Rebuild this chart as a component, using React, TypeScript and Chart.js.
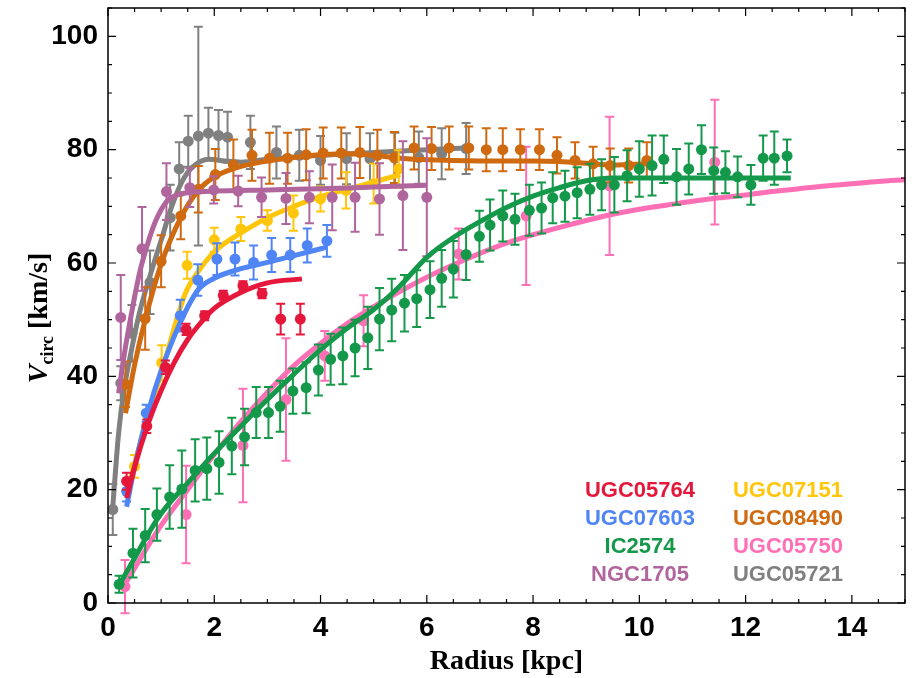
import React, { useEffect, useRef } from "react";
import { Chart, registerables } from "chart.js";

Chart.register(...registerables);

// ---- data ----
const galaxyNames = ["UGC05764", "UGC07603", "IC2574", "NGC1705", "UGC07151", "UGC08490", "UGC05750", "UGC05721"];
const galaxyColors = ["#e5173b", "#4f85f5", "#14984a", "#b0669c", "#ffc60b", "#cf6a10", "#ff6fb5", "#808080"];

const xTickValues = [0, 2, 4, 6, 8, 10, 12, 14];
const yTickValues = [0, 20, 40, 60, 80, 100];

// points: [radius kpc, Vcirc km/s, error]
const ugc05764Points = [
  [0.35, 21.5, 1.5], [0.73, 31.2, 1.2], [1.08, 41.6, 1.2], [1.47, 48.3, 1.0], [1.82, 50.7, 0.8],
  [2.17, 54.3, 0.8], [2.54, 56.0, 0.8], [2.9, 54.6, 0.8], [3.25, 50.1, 2.7], [3.62, 50.1, 2.7],
];
const ugc05764Fit = [
  [0.35, 18.5], [0.5, 24], [0.75, 31.5], [1.0, 37.5], [1.25, 42.5], [1.5, 46.5], [1.75, 49.5],
  [2.0, 52], [2.5, 54.8], [3.0, 56.5], [3.65, 57.2],
];

const ugc07603Points = [
  [0.35, 19.7, 1.8], [0.72, 33.5, 1.5], [1.36, 50.7, 2.8], [1.69, 57.0, 2.8], [2.05, 60.7, 2.8],
  [2.39, 60.7, 2.9], [2.74, 60.1, 3.0], [3.08, 61.4, 3.0], [3.43, 61.4, 3.0], [3.75, 63.1, 3.0], [4.12, 63.9, 2.8],
];
const ugc07603Fit = [
  [0.35, 17], [0.5, 24], [0.75, 33.5], [1.0, 41], [1.36, 49.5], [1.7, 55.3], [2.0, 57.3],
  [2.5, 59], [3.0, 60.1], [3.5, 61.3], [4.12, 62.8],
];

const ic2574Points = [
  [0.21, 3.3, 1.5], [0.47, 8.8, 4.3], [0.7, 11.9, 4.7], [0.92, 15.6, 4.6], [1.16, 18.7, 5.6],
  [1.39, 20.1, 6.8], [1.64, 23.4, 5.5], [1.86, 23.7, 5.5], [2.09, 24.8, 5.5], [2.33, 27.7, 5.0],
  [2.57, 29.3, 5.0], [2.79, 33.6, 4.5], [3.02, 33.6, 4.5], [3.24, 34.7, 4.5], [3.48, 37.4, 4.0],
  [3.73, 38.0, 4.5], [3.96, 41.1, 4.5], [4.19, 43.0, 4.5], [4.42, 43.6, 5.0], [4.65, 45.0, 5.0],
  [4.89, 46.8, 5.5], [5.11, 50.1, 5.5], [5.34, 51.7, 5.5], [5.58, 52.9, 5.0], [5.81, 53.7, 5.0],
  [6.06, 55.3, 5.0], [6.28, 57.3, 5.0], [6.5, 58.9, 5.0], [6.74, 61.5, 4.5], [6.99, 64.7, 4.5],
  [7.19, 66.7, 4.5], [7.43, 68.3, 4.5], [7.66, 67.7, 4.5], [7.93, 69.3, 4.5], [8.16, 69.7, 4.5],
  [8.37, 71.5, 4.5], [8.6, 71.8, 4.5], [8.83, 72.4, 4.5], [9.07, 73.0, 4.5], [9.29, 73.8, 4.5],
  [9.53, 73.8, 4.9], [9.77, 75.4, 4.5], [10.0, 76.6, 4.9], [10.24, 77.2, 5.3], [10.46, 78.3, 4.2],
  [10.7, 75.2, 4.9], [10.93, 76.6, 4.5], [11.17, 80.0, 4.3], [11.4, 76.3, 4.1], [11.62, 76.0, 3.7],
  [11.85, 75.2, 3.6], [12.1, 73.8, 3.5], [12.33, 78.5, 4.0], [12.54, 78.5, 4.7], [12.78, 78.9, 2.9],
];
const ic2574Fit = [
  [0.2, 3], [0.5, 7.9], [0.75, 12.1], [1.0, 15.8], [1.5, 21.2], [2.0, 26.4], [2.5, 31.2], [3.0, 35.9],
  [3.5, 40.4], [4.0, 44.7], [4.5, 48.5], [5.0, 51.8], [5.5, 56], [6.0, 61], [6.5, 64.5], [7.0, 67.3],
  [7.5, 69.8], [8.0, 71.8], [8.5, 73.3], [9.0, 74.5], [9.5, 75], [10.0, 75], [11.0, 75], [12.0, 75], [12.85, 75],
];

const ngc1705Points = [
  [0.24, 50.4, 7.5], [0.64, 62.5, 7.4], [1.1, 72.6, 5.0], [1.54, 73.3, 3.4], [1.99, 72.9, 2.4],
  [2.45, 72.7, 2.7], [2.89, 71.6, 3.5], [3.35, 71.4, 4.5], [3.79, 71.6, 4.6], [4.22, 71.6, 5.8],
  [4.65, 71.6, 6.1], [5.11, 71.3, 6.3], [5.55, 71.9, 9.6], [6.0, 71.6, 10.4],
];
const ngc1705Fit = [
  [0.2, 37], [0.3, 43.5], [0.4, 49], [0.5, 54], [0.6, 58.5], [0.75, 63.5], [0.9, 67.5], [1.1, 70.8],
  [1.3, 72], [1.6, 72.5], [2.0, 72.7], [3.0, 72.9], [4.0, 73.1], [5.0, 73.4], [6.0, 73.7],
];

const ugc07151Points = [
  [0.5, 24.1, 2.0], [1.01, 42.4, 3.1], [1.49, 59.6, 2.4], [2.0, 64.1, 2.1], [2.5, 66.0, 2.1],
  [3.0, 67.5, 1.8], [3.49, 68.8, 3.1], [4.0, 71.3, 2.2], [4.48, 72.8, 3.2], [5.0, 74.0, 3.5], [5.47, 76.6, 3.3],
];
const ugc07151Fit = [
  [0.4, 21], [0.75, 33], [1.0, 40.5], [1.45, 54.5], [1.7, 58.5], [2.0, 62], [2.5, 65.3], [3.0, 68],
  [3.5, 70], [4.0, 71.7], [4.5, 73], [5.0, 74.3], [5.5, 75.6],
];

const ugc08490Points = [
  [0.33, 38.6, 4.0], [0.7, 50.2, 5.5], [1.0, 60.3, 4.6], [1.37, 68.3, 4.1], [1.7, 73.0, 4.1],
  [2.02, 75.6, 4.5], [2.36, 77.3, 4.5], [2.71, 79.0, 4.5], [3.04, 78.5, 4.5], [3.38, 78.5, 4.5],
  [3.73, 79.1, 4.5], [4.05, 79.4, 4.5], [4.39, 79.4, 4.5], [4.74, 79.5, 4.5], [5.07, 79.0, 4.5],
  [5.39, 78.6, 4.5], [5.76, 80.3, 3.8], [6.09, 80.2, 3.8], [6.42, 80.3, 3.8], [6.79, 80.3, 3.8],
  [7.12, 80.0, 3.8], [7.43, 80.0, 3.8], [7.76, 80.0, 3.6], [8.12, 80.0, 3.6], [8.45, 79.0, 3.2],
  [8.79, 78.1, 3.2], [9.13, 77.5, 3.0], [9.45, 77.2, 3.0], [9.8, 77.2, 3.0], [10.14, 78.1, 3.2],
];
const ugc08490Fit = [
  [0.33, 33.5], [0.5, 42], [0.7, 50], [1.0, 59.8], [1.37, 68], [1.7, 72.8], [2.0, 75.2], [2.35, 76.6],
  [2.7, 77.5], [3.0, 78], [3.5, 78.6], [4.0, 79.1], [4.5, 79.3], [5.0, 79.0], [5.5, 78.5], [6.0, 78.2],
  [7.0, 78.0], [8.0, 78.0], [8.5, 77.9], [9.0, 77.6], [9.5, 77.3], [10.2, 77.5],
];

const ugc05750Points = [
  [0.32, 2.9, 4.7], [1.47, 15.6, 8.6], [2.54, 27.8, 10.0], [3.35, 35.9, 10.8], [4.08, 43.6, 4.4],
  [4.81, 49.8, 4.5], [6.6, 61.6, 4.5], [7.87, 68.3, 12.2], [9.44, 73.6, 12.2], [11.42, 77.8, 11.0],
];
const ugc05750Fit = [
  [0.3, 3], [0.75, 10], [1.0, 13.7], [1.5, 20], [2.0, 26.2], [2.5, 32], [3.0, 37.2], [3.5, 41.9],
  [4.0, 45.8], [4.5, 49.3], [5.0, 52.3], [5.5, 55], [6.0, 57.5], [6.5, 59.7], [7.0, 61.7], [7.5, 63.5],
  [8.0, 65], [8.5, 66.3], [9.0, 67.5], [9.5, 68.6], [10.0, 69.5], [10.5, 70.2], [11.0, 70.9],
  [11.5, 71.5], [12.0, 72], [12.5, 72.6], [13.0, 73.1], [13.5, 73.6], [14.0, 74], [14.5, 74.4], [15.0, 74.7],
];

const ugc05721Points = [
  [0.09, 16.5, 4.5], [0.24, 38.8, 3.0], [0.45, 47.6, 5.0], [0.79, 56.6, 5.6], [1.17, 68.0, 5.8],
  [1.34, 76.6, 4.7], [1.51, 81.5, 4.5], [1.7, 82.4, 19.3], [1.89, 82.9, 4.5], [2.08, 82.5, 4.5],
  [2.25, 82.2, 4.5], [2.68, 81.3, 4.7], [3.17, 79.5, 4.6], [3.6, 79.0, 4.5], [4.0, 78.1, 4.3],
  [4.49, 78.4, 4.5], [4.93, 78.4, 4.5], [5.4, 78.5, 4.5], [5.85, 78.6, 4.6], [6.28, 79.3, 4.5], [6.74, 80.2, 4.5],
];
const ugc05721Fit = [
  [0.09, 17], [0.2, 30], [0.3, 37.5], [0.45, 45], [0.6, 51.5], [0.8, 58], [1.0, 64], [1.2, 70],
  [1.4, 74.5], [1.6, 77], [1.9, 78.3], [2.2, 78], [2.5, 77.8], [3.0, 78.3], [4.0, 79], [5.0, 79.5],
  [6.0, 80], [6.75, 80.3],
];

const galaxyPoints = [ugc05764Points, ugc07603Points, ic2574Points, ngc1705Points, ugc07151Points, ugc08490Points, ugc05750Points, ugc05721Points];
const galaxyFits = [ugc05764Fit, ugc07603Fit, ic2574Fit, ngc1705Fit, ugc07151Fit, ugc08490Fit, ugc05750Fit, ugc05721Fit];

const SANS = "'Liberation Sans', Arial, sans-serif";
const SERIF = "'Liberation Serif', 'Times New Roman', serif";

const errorBarPlugin = {
  id: "errorBars",
  afterDatasetDraw(chart: any, args: any) {
    const ds = chart.data.datasets[args.index];
    if (!ds.errors) return;
    const ctx = chart.ctx;
    const ys = chart.scales.y;
    ctx.save();
    ctx.strokeStyle = ds.borderColor;
    ctx.lineWidth = 2;
    args.meta.data.forEach((el: any, j: number) => {
      const d = ds.data[j];
      const e = ds.errors[j];
      const x = el.x;
      const yt = ys.getPixelForValue(d.y + e);
      const yb = ys.getPixelForValue(d.y - e);
      ctx.beginPath();
      ctx.moveTo(x, yt);
      ctx.lineTo(x, yb);
      ctx.moveTo(x - 4.5, yt);
      ctx.lineTo(x + 4.5, yt);
      ctx.moveTo(x - 4.5, yb);
      ctx.lineTo(x + 4.5, yb);
      ctx.stroke();
    });
    ctx.restore();
  },
};

const framePlugin = {
  id: "frame",
  afterDraw(chart: any) {
    const ctx = chart.ctx;
    const { left, right, top, bottom } = chart.chartArea;
    const xs = chart.scales.x;
    const ys = chart.scales.y;
    ctx.save();
    ctx.strokeStyle = "#000";
    ctx.lineWidth = 1.5;
    ctx.strokeRect(left, top, right - left, bottom - top);
    ctx.lineWidth = 1.2;
    ctx.beginPath();
    for (let v = 0; v <= 15.001; v += 0.5) {
      const px = xs.getPixelForValue(v);
      const len = Math.abs(v % 2) < 1e-6 ? 8 : 4;
      ctx.moveTo(px, bottom);
      ctx.lineTo(px, bottom - len);
      ctx.moveTo(px, top);
      ctx.lineTo(px, top + len);
    }
    for (let v = 0; v <= 105.001; v += 5) {
      const py = ys.getPixelForValue(v);
      const len = Math.abs(v % 20) < 1e-6 ? 8 : 4;
      ctx.moveTo(left, py);
      ctx.lineTo(left + len, py);
      ctx.moveTo(right, py);
      ctx.lineTo(right - len, py);
    }
    ctx.stroke();

    // x title
    ctx.fillStyle = "#000";
    ctx.textAlign = "center";
    ctx.textBaseline = "middle";
    ctx.font = `bold 28px ${SERIF}`;
    ctx.fillText("Radius [kpc]", (left + right) / 2, 662);

    // y title with subscript
    ctx.save();
    ctx.translate(38, 318);
    ctx.rotate(-Math.PI / 2);
    ctx.textAlign = "left";
    ctx.textBaseline = "alphabetic";
    const fV = `italic bold 28px ${SERIF}`;
    const fS = `bold 18px ${SERIF}`;
    const fR = `bold 28px ${SERIF}`;
    ctx.font = fV;
    const wV = ctx.measureText("V").width;
    ctx.font = fS;
    const wS = ctx.measureText("circ").width;
    ctx.font = fR;
    const wR = ctx.measureText(" [km/s]").width;
    let cx = -(wV + wS + wR) / 2;
    const base = 9;
    ctx.font = fV;
    ctx.fillText("V", cx, base);
    cx += wV;
    ctx.font = fS;
    ctx.fillText("circ", cx, base + 6);
    cx += wS;
    ctx.font = fR;
    ctx.fillText(" [km/s]", cx, base);
    ctx.restore();

    // legend
    const colX = [640, 788];
    const rowY = [491, 519, 547, 575];
    ctx.font = `bold 22px ${SANS}`;
    ctx.textAlign = "center";
    ctx.textBaseline = "middle";
    galaxyNames.forEach((name, i) => {
      const c = Math.floor(i / 4);
      const r = i % 4;
      ctx.fillStyle = galaxyColors[i];
      ctx.fillText(name, colX[c], rowY[r]);
    });
    ctx.restore();
  },
};

export default function App() {
  const ref = useRef<HTMLCanvasElement | null>(null);
  useEffect(() => {
    if (!ref.current) return;
    const datasets: any[] = [];
    galaxyNames.forEach((name, i) => {
      datasets.push({
        label: name + " fit",
        data: galaxyFits[i].map(([x, y]) => ({ x, y })),
        showLine: true,
        borderColor: galaxyColors[i],
        backgroundColor: galaxyColors[i],
        borderWidth: 5,
        pointRadius: 0,
        cubicInterpolationMode: "monotone",
        borderCapStyle: "butt",
      });
      datasets.push({
        label: name,
        data: galaxyPoints[i].map(([x, y]) => ({ x, y })),
        errors: galaxyPoints[i].map((p) => p[2]),
        showLine: false,
        borderColor: galaxyColors[i],
        backgroundColor: galaxyColors[i],
        pointRadius: 5.5,
        pointBorderWidth: 0,
      });
    });
    const chart = new Chart(ref.current, {
      type: "scatter",
      data: { datasets },
      plugins: [errorBarPlugin, framePlugin],
      options: {
        responsive: false,
        animation: false,
        devicePixelRatio: 1,
        layout: { padding: { left: 0, right: 7, top: 8, bottom: 0 } },
        plugins: { legend: { display: false }, tooltip: { enabled: false } },
        scales: {
          x: {
            type: "linear",
            min: 0,
            max: 15,
            grid: { display: false, drawTicks: false },
            border: { display: false },
            afterBuildTicks: (s: any) => {
              s.ticks = xTickValues.map((v) => ({ value: v }));
            },
            ticks: {
              padding: 8,
              color: "#000",
              maxRotation: 0,
              autoSkip: false,
              font: { family: SANS, weight: "bold", size: 28 },
            },
            afterFit: (s: any) => {
              s.height = 75;
              s.paddingLeft = 0;
              s.paddingRight = 0;
            },
          },
          y: {
            type: "linear",
            min: 0,
            max: 105,
            grid: { display: false, drawTicks: false },
            border: { display: false },
            afterBuildTicks: (s: any) => {
              s.ticks = yTickValues.map((v) => ({ value: v }));
            },
            ticks: {
              padding: 10,
              color: "#000",
              autoSkip: false,
              font: { family: SANS, weight: "bold", size: 28 },
            },
            afterFit: (s: any) => {
              s.width = 108;
              s.paddingTop = 0;
              s.paddingBottom = 0;
            },
          },
        },
      } as any,
    });
    return () => chart.destroy();
  }, []);
  return (
    <div style={{ position: "fixed", left: 0, top: 0, width: 912, height: 678, background: "#fff" }}>
      <canvas ref={ref} width={912} height={678} style={{ display: "block", width: 912, height: 678 }} />
    </div>
  );
}
